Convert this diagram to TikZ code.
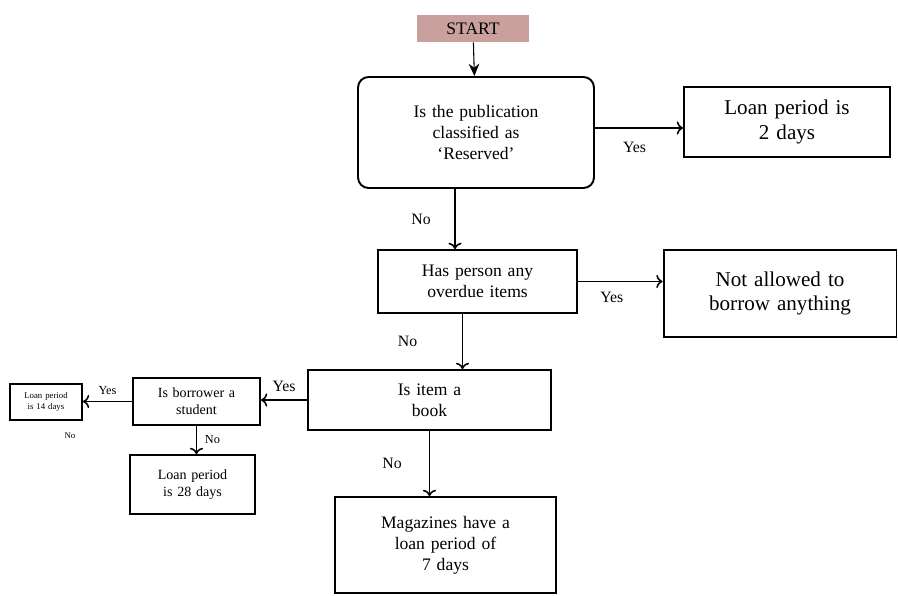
\documentclass[tikz,border=0pt]{standalone}
\usepackage{fontspec}
\setmainfont{Liberation Serif}
\usetikzlibrary{arrows.meta}
\begin{document}
\begin{tikzpicture}[x=0.02cm,y=-0.02cm,
    box/.style={draw,line width=1.1pt,align=center,inner sep=2pt},
    lbl/.style={font=\small},
    arr/.style={->,line width=0.9pt}]
      \useasboundingbox (0,0) rectangle (898,595);
      \node[fill={rgb,255:red,201;green,160;blue,158},minimum width=2.24cm,minimum height=0.54cm,font=\normalsize] (start) at (473,28.5) {START};
      \node[box,rounded corners=6pt,minimum width=4.72cm,minimum height=2.22cm,text width=4.4cm] (reserved) at (476,132.5) {Is the publication\\ classified as\\ `Reserved'\\[8pt]};
      \node[box,minimum width=4.12cm,minimum height=1.4cm,text width=3.9cm,font=\large] (twodays) at (787,122) {Loan period is\\ 2 days};
      \node[box,minimum width=3.98cm,minimum height=1.26cm,text width=3.8cm] (overdue) at (477.5,281.5) {Has person any\\ overdue items};
      \node[box,minimum width=4.66cm,minimum height=1.74cm,text width=4.4cm,font=\large] (notallowed) at (780,293.5) {Not allowed to\\ borrow anything\\[10pt]};
      \node[box,minimum width=4.86cm,minimum height=1.2cm,text width=4.5cm] (book) at (429.5,400) {Is item a\\ book};
      \node[box,minimum width=2.54cm,minimum height=0.94cm,text width=2.4cm,font=\footnotesize] (student) at (196.5,401.5) {Is borrower a\\ student};
      \node[box,minimum width=1.44cm,minimum height=0.72cm,text width=1.35cm,font=\tiny,inner sep=1pt] (fourteen) at (46,402) {Loan period\\ is 14 days};
      \node[box,minimum width=2.5cm,minimum height=1.18cm,text width=2.3cm,font=\footnotesize] (twentyeight) at (192.5,484.5) {Loan period\\ is 28 days};
      \node[box,minimum width=4.42cm,minimum height=1.92cm,text width=4.2cm] (magazines) at (445.5,545) {Magazines have a\\ loan period of\\ 7 days\\[6pt]};
      \draw[-{Stealth[length=7pt,width=6pt]},line width=0.6pt] (start) -- (reserved);
      \draw[arr] ([yshift=0.09cm]reserved.east) -- ([yshift=0.09cm]reserved.east -| twodays.west) node[lbl,pos=0.45,below=4pt] {Yes};
      \draw[arr] ([xshift=-0.42cm]reserved.south) -- ([xshift=-0.42cm]reserved.south |- overdue.north) node[lbl,midway,left=10pt] {No};
      \draw[arr] (overdue.east) -- (overdue.east -| notallowed.west) node[lbl,pos=0.4,below=2pt] {Yes};
      \draw[arr] ([xshift=-0.3cm]overdue.south) -- ([xshift=-0.3cm]overdue.south |- book.north) node[lbl,midway,left=22pt] {No};
      \draw[arr] (book.west) -- (book.west -| student.east) node[lbl,midway,above=1pt] {Yes};
      \draw[arr] (student.west) -- (student.west -| fourteen.east) node[lbl,font=\scriptsize,midway,above=0pt] {Yes};
      \draw[arr] (student.south) -- (student.south |- twentyeight.north) node[lbl,font=\scriptsize,midway,right=1pt] {No};
      \draw[arr] (book.south) -- (book.south |- magazines.north) node[lbl,midway,left=12pt] {No};
      \node[font=\tiny] (stray) at (70,436) {No};
\end{tikzpicture}
\end{document}
